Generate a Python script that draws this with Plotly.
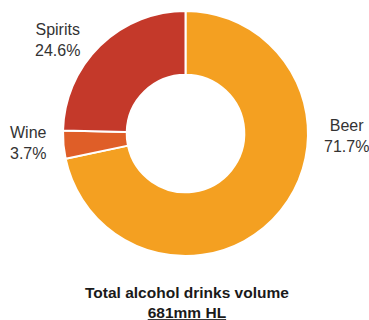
import plotly.graph_objects as go

categories = ["Beer", "Wine", "Spirits"]
shares = [71.7, 3.7, 24.6]
colors = ["#F4A021", "#DF5E28", "#C4392A"]
total_label = "681mm HL"

W, H = 369, 320
cx, cy, r = 185.5, 133.5, 122.5

fig = go.Figure(go.Pie(
    labels=categories,
    values=shares,
    hole=0.48,
    sort=False,
    direction="clockwise",
    rotation=0,
    marker=dict(colors=colors, line=dict(color="white", width=2)),
    textinfo="none",
    hoverinfo="label+percent",
    domain=dict(x=[(cx - r) / W, (cx + r) / W], y=[1 - (cy + r) / H, 1 - (cy - r) / H]),
    showlegend=False,
))

label_pos = {"Beer": (346, 136), "Wine": (28, 143), "Spirits": (57, 40)}
for cat, val in zip(categories, shares):
    x, y = label_pos[cat]
    fig.add_annotation(x=x / W, y=1 - y / H, xref="paper", yref="paper",
                       text=f"{cat}<br>{val:.1f}%", showarrow=False,
                       font=dict(family="Liberation Sans, Arial", size=16, color="#333333"),
                       xanchor="center", yanchor="middle", align="center")

fig.add_annotation(x=187 / W, y=1 - 302 / H, xref="paper", yref="paper",
                   text=f"<b>Total alcohol drinks volume</b><br><b><u>{total_label}</u></b>",
                   showarrow=False,
                   font=dict(family="Liberation Sans, Arial", size=15.5, color="#1a1a1a"),
                   xanchor="center", yanchor="middle", align="center")

fig.update_layout(width=W, height=H, margin=dict(l=0, r=0, t=0, b=0),
                  paper_bgcolor="white", plot_bgcolor="white")
fig.write_html("out.html", config={"displayModeBar": False},
               post_script="document.body.style.margin='0';document.body.style.overflow='hidden';")
